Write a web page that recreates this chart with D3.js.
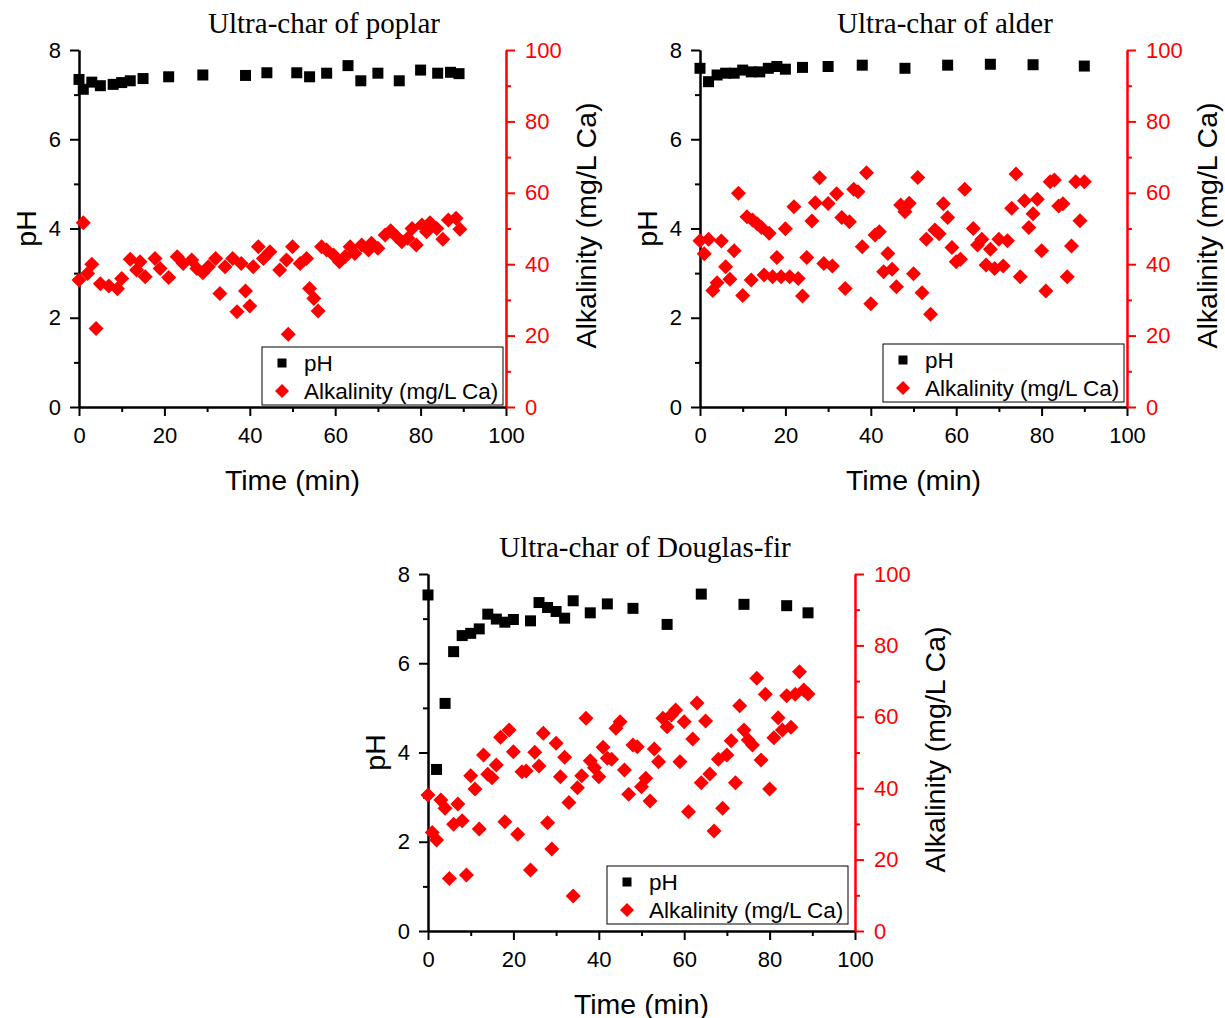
<!DOCTYPE html>
<html>
<head>
<meta charset="utf-8">
<script src="https://cdn.jsdelivr.net/npm/d3@7"></script>
<style>
  body { margin: 0; background: #fff; }
  text { font-family: "Liberation Sans", Arial, sans-serif; }
  .title { font-family: "Liberation Serif", "Times New Roman", serif; }
</style>
</head>
<body>
<svg id="chart"></svg>
<script>
// ---- data: [time (min), value] ----
const poplarPH = [[0,7.34],[1,7.12],[3,7.28],[5,7.2],[8,7.23],[10,7.27],[12,7.31],[15,7.36],[21,7.4],[29,7.44],
  [39,7.43],[44,7.49],[51,7.49],[54,7.4],[58,7.48],[63,7.65],[66,7.31],[70,7.48],[75,7.31],[80,7.55],[84,7.48],[87,7.5],[89,7.47]];
const poplarAlk = [[0,35.6],[1,51.6],[2,37.4],[3,40],[4,22],[5,34.5],[7,33.9],[9,33.1],[10,36],[12,41.4],[13.5,38.4],
  [14.3,40.7],[15.5,36.5],[17.8,41.6],[19,38.8],[21,36.3],[23,42.1],[24.4,40.2],[26.4,41.2],[27.6,38.8],[29,37.6],
  [30.3,39.3],[32,41.6],[33,31.8],[34.2,39.3],[36,41.6],[38,40.2],[37,26.7],[39,32.5],[40,28.3],[40.8,39.3],[42,44.9],
  [43.2,41.6],[44.7,43.5],[47,38.4],[48.6,41.2],[50,44.9],[49,20.4],[51.8,40.2],[53.3,41.6],[54,33.2],[55,30.4],
  [56,26.9],[56.8,44.9],[58,44],[59.6,42.6],[61,40.7],[62.3,42.1],[63.5,44.9],[64.6,43],[66.2,45.4],[67.8,44],
  [68.5,45.9],[70,44.5],[71.7,48.2],[73,49.4],[74.4,47.7],[75.6,46.3],[77,47.3],[78,50],[79,45.4],[80.3,51],
  [81.4,49.1],[82.2,51.6],[83.8,50],[85.2,47],[86.5,52.4],[88.3,52.9],[89.2,49.8]];

const alderPH = [[0,7.59],[2,7.29],[4,7.44],[6,7.48],[8,7.48],[10,7.55],[12,7.51],[14,7.51],[16,7.59],[18,7.63],
  [20,7.57],[24,7.61],[30,7.63],[38,7.66],[48,7.59],[58,7.66],[68,7.68],[78,7.67],[90,7.64]];
const alderAlk = [[0,46.6],[1,42.9],[2,47],[3,32.6],[4,34.8],[5,46.5],[6,39.3],[7,35.8],[8,43.8],[9,59.9],[10,31.2],
  [11,53.3],[12,35.6],[12.3,52.4],[13.4,51.3],[14.4,50.3],[15,37],[16.2,48.7],[17,36.5],[18,41.9],[19,36.5],[20,49.9],
  [21,36.5],[22,56.1],[23,36],[24,31.1],[25,41.9],[26.2,52.1],[27,57.2],[28,64.2],[29,40.2],[30,57],[31,39.5],[32,59.7],
  [33.2,53.1],[34,33.2],[35,51.9],[36,61],[37,60.3],[38,44.9],[39,65.6],[40,28.9],[41,48.2],[42,49.1],[43,37.9],
  [44,43],[45,38.6],[46,33.7],[47,56.6],[48,54.7],[49,57.1],[50,37.3],[51,64.3],[52,32],[53,47],[54,26],[55,49.6],
  [56,48.5],[57,56.9],[58,53.1],[59,44.7],[60,40.7],[61,41.4],[62,61],[64,50],[65,45.4],[66,47],[67,39.8],[68,44.2],
  [69,38.8],[70,47],[71,39.5],[72,46.6],[73,55.7],[74,65.3],[75,36.5],[76,57.8],[77,50.3],[78,54.1],[79,58.2],
  [80,43.8],[81,32.5],[82,63.1],[83,63.6],[84,56.3],[85,56.9],[86,36.5],[87,45.1],[88,63.1],[89,52.2],[90,63.1]];

const firPH = [[0,7.53],[2,3.62],[4,5.1],[6,6.26],[8,6.62],[10,6.67],[12,6.77],[14,7.1],[16,6.99],[18,6.92],[20,6.98],
  [24,6.95],[26,7.36],[28,7.25],[30,7.16],[32,7.01],[34,7.4],[38,7.13],[42,7.33],[48,7.23],[56,6.87],[64,7.55],
  [74,7.32],[84,7.29],[89,7.13]];
const firAlk = [[0,38.1],[1,27.6],[2,25.5],[3,36.7],[4,34.4],[5,14.7],[6,29.9],[7,35.6],[8,30.9],[9,15.7],[10,43.5],
  [11,39.8],[12,28.6],[13,49.3],[14,43.9],[15,42.9],[16,46.5],[17,54.3],[18,30.6],[19,56.3],[20,50.2],[21,27.1],
  [22,44.6],[23,44.8],[24,17.1],[25,50.1],[26,46.2],[27,55.4],[28,30.3],[29,23],[30,52.6],[31,43.2],[32,48.7],[33,36],
  [34,9.8],[35,40.1],[36,43.5],[37,59.6],[38,47.7],[39,45.7],[40,43.2],[41,51.5],[42,48.4],[43,48.1],[44,56.8],
  [45,58.6],[46,45.1],[47,38.3],[48,52.1],[49,51.6],[50,40.4],[51,42.8],[52,36.4],[53,51],[54,47.4],[55,59.6],
  [56,57.2],[57,60.5],[58,61.9],[59,47.4],[60,58.6],[61,33.4],[62,53.8],[63,63.9],[64,41.5],[65,58.8],[66,44],
  [67,28],[68,48.1],[69,34.4],[70,49.3],[71,53.3],[72,41.5],[73,63.1],[74,56.3],[75,53.5],[76,52.1],[77,70.8],
  [78,47.9],[79,66.3],[80,39.8],[81,54.1],[82,59.7],[83,56.3],[84,65.9],[85,57.1],[86,66.3],[87,72.6],[88,67.5],[89,66.4]];

const timeTicks = [0, 20, 40, 60, 80, 100];
const timeMinor = [10, 30, 50, 70, 90];
const phTicks = [0, 2, 4, 6, 8];
const phMinor = [1, 3, 5, 7];
const alkTicks = [0, 20, 40, 60, 80, 100];
const alkMinor = [10, 30, 50, 70, 90];

const legendLabels = ['pH', 'Alkalinity (mg/L Ca)'];

const panels = [
  {title: 'Ultra-char of poplar', ph: poplarPH, alk: poplarAlk, left: 79, top: 50, titleX: 324, titleY: 33,
   legend: {x: 262, y: 347}},
  {title: 'Ultra-char of alder', ph: alderPH, alk: alderAlk, left: 700, top: 50, titleX: 945, titleY: 33,
   legend: {x: 883, y: 344}},
  {title: 'Ultra-char of Douglas-fir', ph: firPH, alk: firAlk, left: 428, top: 574, titleX: 645, titleY: 557,
   legend: {x: 607, y: 866}}
];

const W = 1225, H = 1018;
const plotW = 427, plotH = 357;
const RED = '#ff0000';

const svg = d3.select('#chart')
  .attr('width', W)
  .attr('height', H);

const square = 'M-5.5,-5.5H5.5V5.5H-5.5Z';
const diamond = 'M0,-7.5L7.5,0L0,7.5L-7.5,0Z';

const styleAxis = (g, color) => {
  g.selectAll('path, line').attr('stroke', color).attr('stroke-width', 2);
  g.selectAll('text').attr('fill', color).attr('font-size', 22);
};

const drawPanel = p => {
  const g = svg.append('g').attr('transform', `translate(${p.left},${p.top})`);

  const x = d3.scaleLinear().domain([0, 100]).range([0, plotW]);
  const yPh = d3.scaleLinear().domain([0, 8]).range([plotH, 0]);
  const yAlk = d3.scaleLinear().domain([0, 100]).range([plotH, 0]);

  // minor ticks first, then major axes on top
  g.append('g').attr('transform', `translate(0,${plotH})`)
    .call(d3.axisBottom(x).tickValues(timeMinor).tickSize(5).tickSizeOuter(0).tickFormat(''))
    .call(a => styleAxis(a, '#000'));
  g.append('g')
    .call(d3.axisLeft(yPh).tickValues(phMinor).tickSize(5).tickSizeOuter(0).tickFormat(''))
    .call(a => styleAxis(a, '#000'));
  g.append('g').attr('transform', `translate(${plotW},0)`)
    .call(d3.axisRight(yAlk).tickValues(alkMinor).tickSize(5).tickSizeOuter(0).tickFormat(''))
    .call(a => styleAxis(a, RED));

  g.append('g').attr('transform', `translate(0,${plotH})`)
    .call(d3.axisBottom(x).tickValues(timeTicks).tickSize(9).tickSizeOuter(0).tickPadding(11))
    .call(a => styleAxis(a, '#000'));
  g.append('g')
    .call(d3.axisLeft(yPh).tickValues(phTicks).tickSize(9).tickSizeOuter(0).tickPadding(9))
    .call(a => styleAxis(a, '#000'));
  g.append('g').attr('transform', `translate(${plotW},0)`)
    .call(d3.axisRight(yAlk).tickValues(alkTicks).tickSize(9).tickSizeOuter(0).tickPadding(10))
    .call(a => styleAxis(a, RED));

  // points
  g.append('g').selectAll('path')
    .data(p.alk)
    .join('path')
    .attr('d', diamond)
    .attr('fill', RED)
    .attr('transform', d => `translate(${x(d[0])},${yAlk(d[1])})`);

  g.append('g').selectAll('path')
    .data(p.ph)
    .join('path')
    .attr('d', square)
    .attr('fill', '#000')
    .attr('transform', d => `translate(${x(d[0])},${yPh(d[1])})`);

  // titles
  svg.append('text').attr('class', 'title')
    .attr('x', p.titleX).attr('y', p.titleY)
    .attr('text-anchor', 'middle').attr('font-size', 29)
    .text(p.title);

  g.append('text')
    .attr('x', plotW / 2).attr('y', plotH + 83)
    .attr('text-anchor', 'middle').attr('font-size', 28.5)
    .text('Time (min)');

  g.append('text')
    .attr('transform', `translate(-43,${plotH / 2}) rotate(-90)`)
    .attr('text-anchor', 'middle').attr('font-size', 28.5)
    .text('pH');

  g.append('text')
    .attr('transform', `translate(${plotW + 90},${plotH / 2 - 3}) rotate(-90)`)
    .attr('text-anchor', 'middle').attr('font-size', 28.5)
    .text('Alkalinity (mg/L Ca)');

  // legend
  const lg = svg.append('g').attr('transform', `translate(${p.legend.x},${p.legend.y})`);
  lg.append('rect')
    .attr('width', 241).attr('height', 58)
    .attr('fill', '#fff').attr('stroke', '#000').attr('stroke-width', 1);
  const items = lg.selectAll('g.item')
    .data(legendLabels)
    .join('g')
    .attr('class', 'item')
    .attr('transform', (d, i) => `translate(20,${16 + i * 28})`);
  items.append('path')
    .attr('d', (d, i) => i === 0 ? 'M-4.5,-4.5H4.5V4.5H-4.5Z' : 'M0,-7L7,0L0,7L-7,0Z')
    .attr('fill', (d, i) => i === 0 ? '#000' : RED);
  items.append('text')
    .attr('x', 22).attr('dy', '0.35em')
    .attr('font-size', 22.5)
    .text(d => d);
};

panels.forEach(drawPanel);
</script>
</body>
</html>
